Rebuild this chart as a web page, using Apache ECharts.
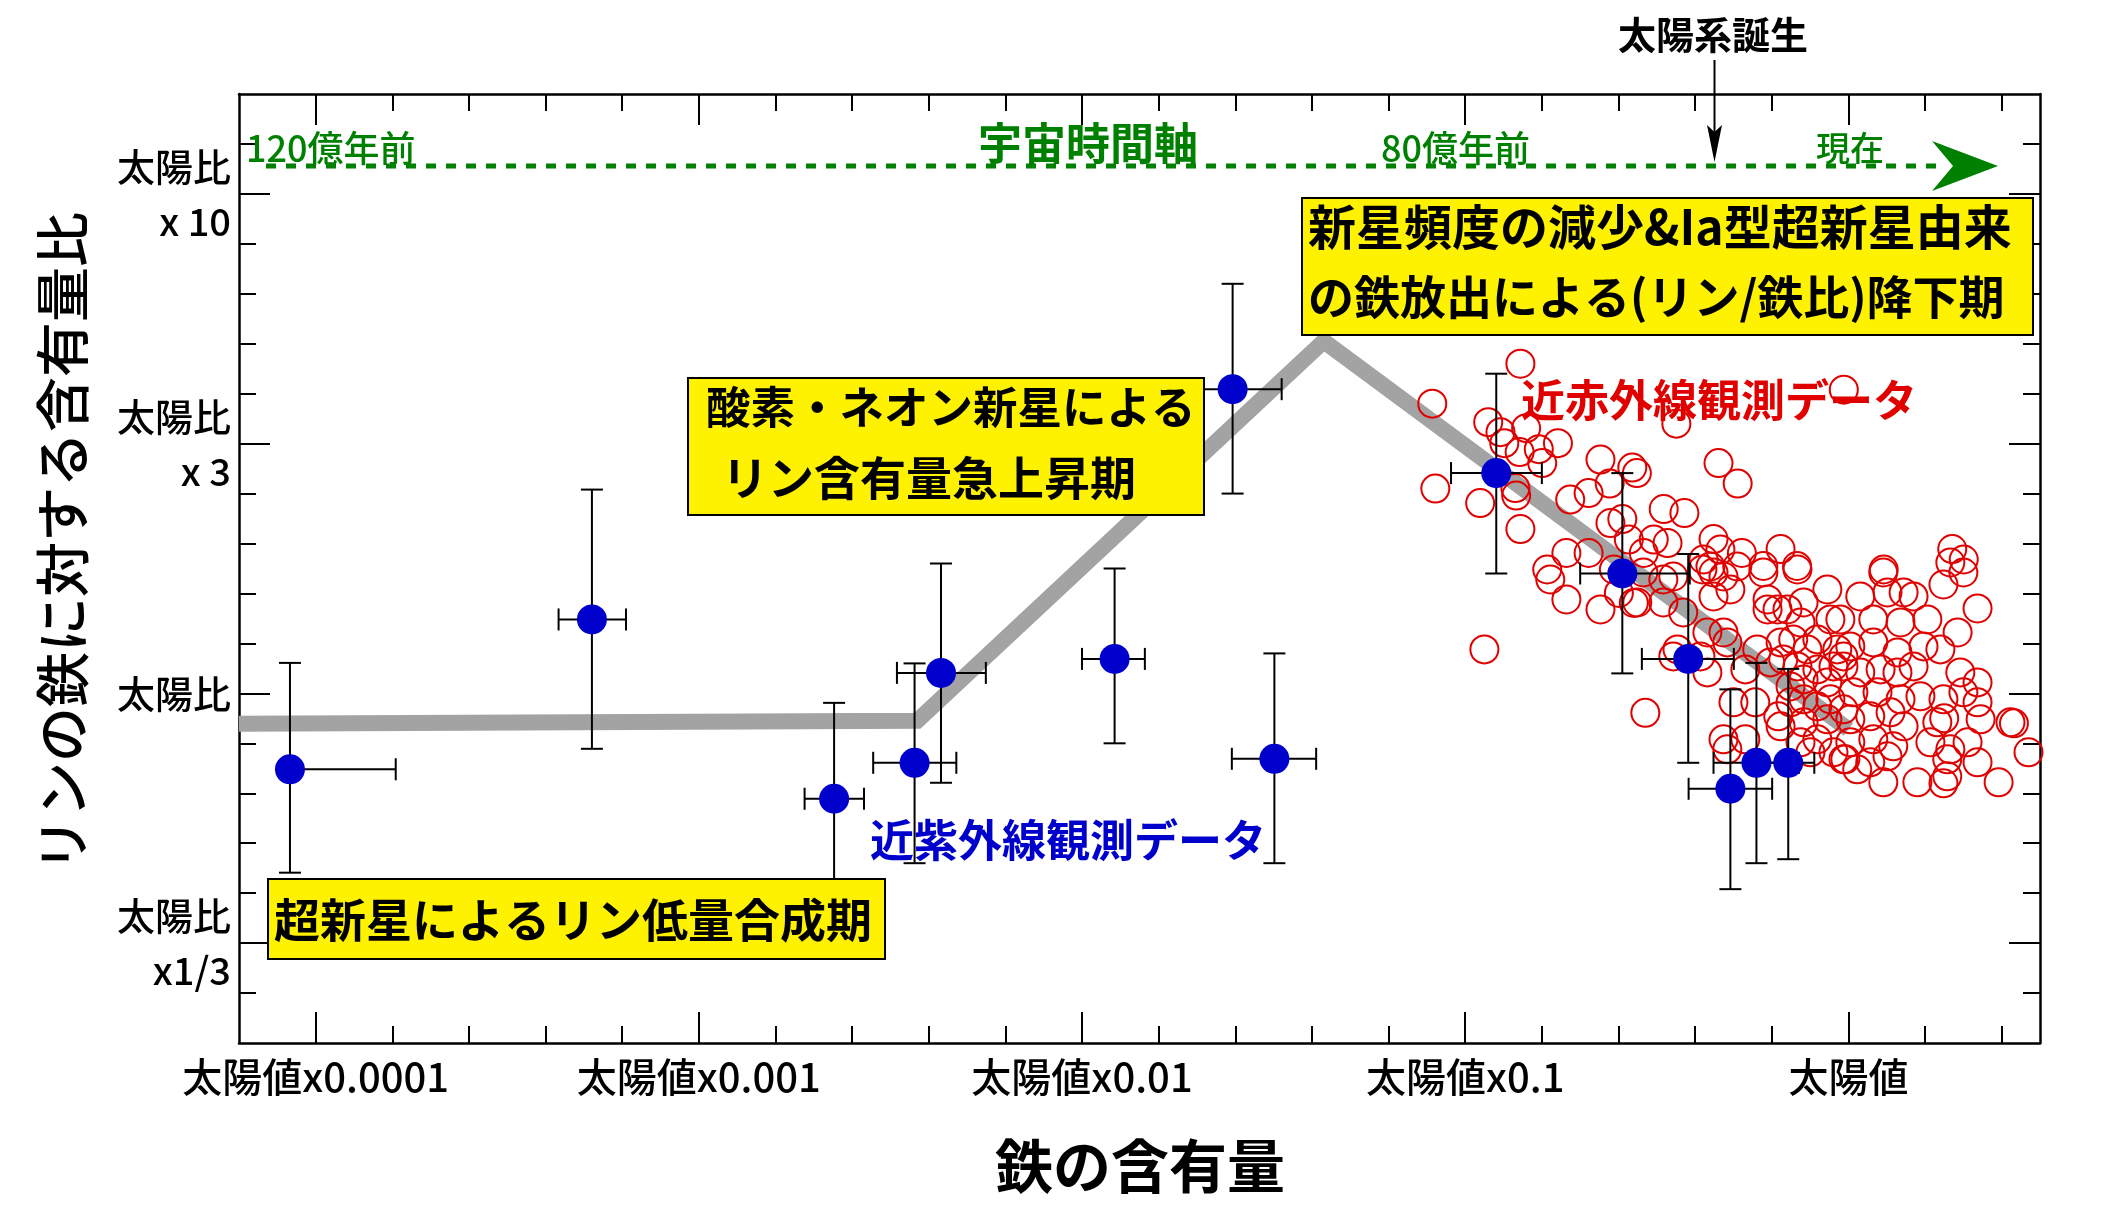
<!DOCTYPE html>
<html>
<head>
<meta charset="utf-8">
<script src="https://cdn.jsdelivr.net/npm/echarts@6/dist/echarts.min.js"></script>
<style>
  html, body { margin: 0; padding: 0; background: #fff; }
  #chart { width: 2114px; height: 1224px; }
</style>
</head>
<body>
<div id="chart"></div>
<script>
var FONT = "'Noto Sans CJK JP', sans-serif";

// 軸の目盛り
var feMajor = [-4, -3, -2, -1, 0];
var feMajorLabels = ['太陽値x0.0001', '太陽値x0.001', '太陽値x0.01', '太陽値x0.1', '太陽値'];
var feMinor = [-4.0, -3.8, -3.6, -3.4, -3.2, -3.0, -2.8, -2.6, -2.4, -2.2, -2.0, -1.8, -1.6,
               -1.4, -1.2, -1.0, -0.8, -0.6, -0.4, -0.2, 0, 0.2, 0.4];
var pMajor = [-0.5, 0, 0.5, 1.0];
var pMajorLabels = ['太陽比\nx1/3', '太陽比', '太陽比\nx 3', '太陽比\nx 10'];
var pMinor = [-0.6, -0.5, -0.4, -0.3, -0.2, -0.1, 0, 0.1, 0.2, 0.3, 0.4, 0.5, 0.6, 0.7, 0.8, 0.9, 1.0, 1.1];

// 近紫外線観測データ [Fe/H], [P/Fe] と誤差範囲
var uvFe   = [-4.067, -3.279, -2.647, -2.437, -2.368, -1.915, -1.498, -1.607, -0.919, -0.590, -0.418, -0.308, -0.240, -0.157];
var uvP    = [-0.152,  0.148, -0.211, -0.139,  0.041,  0.069, -0.131,  0.609,  0.441,  0.240,  0.069, -0.191, -0.139, -0.139];
var uvFeLo = [-4.067, -3.366, -2.724, -2.545, -2.483, -2.000, -1.609, -1.740, -1.037, -0.700, -0.539, -0.417, -0.352, -0.224];
var uvFeHi = [-3.791, -3.190, -2.569, -2.328, -2.251, -1.836, -1.389, -1.479, -0.800, -0.414, -0.299, -0.199, -0.129, -0.089];
var uvPLo  = [-0.359, -0.111, -0.400, -0.340, -0.179, -0.100, -0.340,  0.400,  0.240,  0.040, -0.139, -0.392, -0.340, -0.332];
var uvPHi  = [ 0.061,  0.408, -0.019,  0.060,  0.260,  0.250,  0.080,  0.820,  0.640,  0.441,  0.279,  0.008,  0.061,  0.049];

// 近赤外線観測データ [Fe/H, P/Fe]
var irPoints = [
  [-0.856,0.66],[-1.086,0.58],[-0.940,0.543],[-0.908,0.523],[-0.841,0.531],[-0.898,0.501],
  [-0.858,0.483],[-0.808,0.489],[-0.758,0.501],[-0.799,0.461],[-1.078,0.41],[-0.961,0.381],
  [-0.869,0.411],[-0.867,0.396],[-0.856,0.329],[-0.647,0.468],[-0.726,0.388],[-0.678,0.401],
  [-0.623,0.42],[-0.552,0.441],[-0.621,0.341],[-0.590,0.349],[-0.573,0.308],[-0.736,0.281],
  [-0.678,0.281],[-0.786,0.248],
  [-0.449,0.54],[-0.012,0.608],[-0.339,0.461],[-0.289,0.42],[-0.564,0.452],[-0.482,0.369],
  [-0.428,0.361],[-0.508,0.308],[-0.472,0.301],[-0.534,0.281],[-0.352,0.309],[-0.334,0.288],
  [-0.278,0.281],[-0.177,0.289],[-0.378,0.268],[-0.222,0.255],[-0.134,0.255],
  [0.271,0.289],[0.301,0.268],[0.092,0.248],
  [-0.778,0.228],[-0.736,0.188],[-0.647,0.168],[-0.599,0.201],[-0.560,0.181],[-0.612,0.248],
  [-0.950,0.088],[-0.530,-0.039],
  [-0.535,0.242],[-0.483,0.228],[-0.457,0.234],[-0.381,0.248],[-0.352,0.242],[-0.326,0.234],
  [-0.360,0.254],[-0.290,0.254],[-0.222,0.242],[-0.133,0.248],[-0.055,0.208],[-0.551,0.182],
  [-0.483,0.182],[-0.431,0.162],[-0.352,0.194],[-0.308,0.208],[-0.211,0.168],[-0.185,0.168],
  [-0.159,0.168],[-0.117,0.182],[-0.047,0.148],[-0.125,0.142],[-0.211,0.188],[-0.368,0.122],
  [-0.326,0.122],[-0.316,0.102],[-0.446,0.088],[-0.238,0.088],[-0.177,0.102],[-0.144,0.108],
  [-0.081,0.108],[-0.029,0.088],[-0.107,0.088],[-0.457,0.074],[-0.386,0.074],[-0.368,0.042],
  [-0.269,0.048],[-0.204,0.062],[-0.170,0.068],[-0.133,0.054],[-0.081,0.048],[-0.039,0.054],
  [-0.013,0.074],[-0.117,0.028],[-0.055,0.022],[-0.151,0.014],[-0.300,-0.018],[-0.243,-0.018],
  [-0.183,-0.046],[-0.151,-0.018],[-0.117,-0.012],[-0.081,-0.026],[-0.047,-0.012],[-0.013,-0.032],
  [-0.117,-0.058],[-0.177,-0.066],[-0.055,-0.052],[-0.326,-0.092],[-0.316,-0.112],[-0.269,-0.092],
  [-0.125,-0.098],[-0.081,-0.092],[-0.039,-0.118],[-0.013,-0.132],[-0.099,-0.118],
  [0.091,0.242],[0.300,0.242],[0.266,0.262],[0.248,0.218],[0.031,0.194],[0.102,0.202],
  [0.144,0.202],[0.170,0.194],[0.337,0.17],[-0.021,0.148],[0.065,0.148],[0.136,0.142],
  [0.206,0.148],[0.285,0.122],[0.005,0.094],[0.065,0.102],[0.128,0.082],[0.196,0.094],
  [0.240,0.088],[0.170,0.054],[0.292,0.042],[0.337,0.022],[-0.013,0.054],[0.031,0.042],
  [0.084,0.048],[0.128,0.042],[0.013,0.002],[0.076,0.002],[0.136,-0.012],[0.188,-0.006],
  [0.248,-0.012],[0.300,0.002],[0.337,-0.018],[0.345,-0.052],[0.423,-0.058],[0.432,-0.060],
  [0.005,-0.052],[0.057,-0.046],[0.110,-0.038],[0.144,-0.066],[0.232,-0.058],[0.250,-0.050],
  [0.214,-0.098],[0.266,-0.112],[0.311,-0.098],[0.005,-0.098],[0.065,-0.092],[0.117,-0.106],
  [-0.008,-0.132],[0.057,-0.138],[0.102,-0.126],[0.258,-0.132],[0.337,-0.138],[0.470,-0.118],
  [0.091,-0.178],[0.180,-0.178],[0.258,-0.166],[0.248,-0.180],[0.392,-0.178],[0.023,-0.152]
];

// 化学進化モデル(灰色の線)
var modelFe = [-4.2, -2.43, -1.369, 0.0];
var modelP  = [-0.061, -0.055, 0.705, -0.072];

var uvData = uvFe.map(function (x, i) { return [x, uvP[i]]; });
var errData = uvFe.map(function (x, i) {
  return [x, uvP[i], uvFeLo[i], uvFeHi[i], uvPLo[i], uvPHi[i]];
});
var modelData = modelFe.map(function (x, i) { return [x, modelP[i]]; });

function findLabel(vals, labels, v) {
  for (var i = 0; i < vals.length; i++) {
    if (Math.abs(vals[i] - v) < 1e-6) return labels[i];
  }
  return '';
}

function xAxisDef(pos, tickVals, len, withLabel, showLine) {
  return {
    type: 'value', position: pos, min: -4.2, max: 0.5,
    axisLine: { show: showLine, onZero: false, lineStyle: { color: '#000', width: 2.5 } },
    axisTick: { show: true, inside: true, length: len, customValues: tickVals,
                lineStyle: { color: '#000', width: 2 } },
    axisLabel: withLabel ? {
      show: true, customValues: feMajor, margin: 14,
      fontFamily: FONT, fontSize: 40, fontWeight: 500, color: '#000',
      formatter: function (v) { return findLabel(feMajor, feMajorLabels, v); }
    } : { show: false },
    splitLine: { show: false }
  };
}

function yAxisDef(pos, tickVals, len, withLabel, showLine) {
  return {
    type: 'value', position: pos, min: -0.7, max: 1.2,
    axisLine: { show: showLine, onZero: false, lineStyle: { color: '#000', width: 2.5 } },
    axisTick: { show: true, inside: true, length: len, customValues: tickVals,
                lineStyle: { color: '#000', width: 2 } },
    axisLabel: withLabel ? {
      show: true, customValues: pMajor, margin: 8, align: 'right',
      fontFamily: FONT, fontSize: 38, fontWeight: 500, color: '#000', lineHeight: 55,
      formatter: function (v) { return findLabel(pMajor, pMajorLabels, v); }
    } : { show: false },
    splitLine: { show: false }
  };
}

var myChart = echarts.init(document.getElementById('chart'));

var option = {
  backgroundColor: '#fff',
  animation: false,
  grid: { left: 239, right: 74, top: 94, bottom: 181 },
  xAxis: [
    xAxisDef('bottom', feMinor, 17, true, true),
    xAxisDef('bottom', feMajor, 31, false, false),
    xAxisDef('top', feMinor, 17, false, true),
    xAxisDef('top', feMajor, 31, false, false)
  ],
  yAxis: [
    yAxisDef('left', pMinor, 17, true, true),
    yAxisDef('left', pMajor, 31, false, false),
    yAxisDef('right', pMinor, 17, false, true),
    yAxisDef('right', pMajor, 31, false, false)
  ],
  series: [
    {
      type: 'line', data: modelData, symbol: 'none', silent: true, z: 1,
      lineStyle: { color: '#a3a3a3', width: 16, cap: 'butt', join: 'miter', opacity: 1 }
    },
    {
      type: 'scatter', data: irPoints, symbol: 'circle', symbolSize: 28, silent: true, z: 2,
      itemStyle: { color: 'rgba(0,0,0,0)', borderColor: '#e00000', borderWidth: 2, opacity: 1 }
    },
    {
      type: 'custom', data: errData, silent: true, z: 3,
      encode: { x: 0, y: 1 },
      renderItem: function (params, api) {
        var c = api.coord([api.value(0), api.value(1)]);
        var l = api.coord([api.value(2), api.value(1)]);
        var r = api.coord([api.value(3), api.value(1)]);
        var b = api.coord([api.value(0), api.value(4)]);
        var t = api.coord([api.value(0), api.value(5)]);
        var cap = 11;
        var st = { stroke: '#000', lineWidth: 2 };
        function seg(x1, y1, x2, y2) {
          return { type: 'line', shape: { x1: x1, y1: y1, x2: x2, y2: y2 }, style: st };
        }
        return {
          type: 'group',
          children: [
            seg(c[0], b[1], c[0], t[1]),
            seg(c[0] - cap, b[1], c[0] + cap, b[1]),
            seg(c[0] - cap, t[1], c[0] + cap, t[1]),
            seg(l[0], c[1], r[0], c[1]),
            seg(l[0], c[1] - cap, l[0], c[1] + cap),
            seg(r[0], c[1] - cap, r[0], c[1] + cap)
          ]
        };
      }
    },
    {
      type: 'scatter', data: uvData, symbol: 'circle', symbolSize: 30, silent: true, z: 4,
      itemStyle: { color: '#0000cc', opacity: 1 }
    }
  ],
  graphic: [
    // 宇宙時間軸
    { type: 'line', shape: { x1: 266, y1: 166, x2: 1940, y2: 166 }, z: 10,
      style: { stroke: '#008000', lineWidth: 5, lineDash: [10, 10] } },
    { type: 'polygon', shape: { points: [[1932, 141], [1998, 166], [1932, 191], [1953, 166]] }, z: 10,
      style: { fill: '#008000' } },
    { type: 'text', x: 246, y: 148, z: 10,
      style: { text: '120億年前', fill: '#008000', font: '500 36px ' + FONT, textVerticalAlign: 'middle' } },
    { type: 'text', x: 978, y: 143, z: 10,
      style: { text: '宇宙時間軸', fill: '#008000', font: 'bold 44px ' + FONT, textVerticalAlign: 'middle' } },
    { type: 'text', x: 1381, y: 148, z: 10,
      style: { text: '80億年前', fill: '#008000', font: '500 36px ' + FONT, textVerticalAlign: 'middle' } },
    { type: 'text', x: 1816, y: 148, z: 10,
      style: { text: '現在', fill: '#008000', font: '500 34px ' + FONT, textVerticalAlign: 'middle' } },
    // 太陽系誕生
    { type: 'text', x: 1713, y: 35, z: 10,
      style: { text: '太陽系誕生', fill: '#000', font: 'bold 38px ' + FONT, textAlign: 'center', textVerticalAlign: 'middle' } },
    { type: 'line', shape: { x1: 1714.5, y1: 60, x2: 1714.5, y2: 140 }, z: 10,
      style: { stroke: '#000', lineWidth: 2 } },
    { type: 'polygon', shape: { points: [[1707, 125], [1714.5, 162], [1722, 125], [1714.5, 132]] }, z: 10,
      style: { fill: '#000' } },
    // 注釈ボックス
    { type: 'rect', shape: { x: 1302, y: 198, width: 731, height: 137 }, z: 10,
      style: { fill: '#fff200', stroke: '#000', lineWidth: 2 } },
    { type: 'text', x: 1308, y: 227, z: 11,
      style: { text: '新星頻度の減少&Ia型超新星由来', fill: '#000', font: 'bold 48px ' + FONT, textVerticalAlign: 'middle' } },
    { type: 'text', x: 1308, y: 297, z: 11,
      style: { text: 'の鉄放出による(リン/鉄比)降下期', fill: '#000', font: 'bold 46px ' + FONT, textVerticalAlign: 'middle' } },
    { type: 'rect', shape: { x: 688, y: 378, width: 516, height: 137 }, z: 10,
      style: { fill: '#fff200', stroke: '#000', lineWidth: 2 } },
    { type: 'text', x: 706, y: 407, z: 11,
      style: { text: '酸素・ネオン新星による', fill: '#000', font: 'bold 44.5px ' + FONT, textVerticalAlign: 'middle' } },
    { type: 'text', x: 722, y: 478, z: 11,
      style: { text: 'リン含有量急上昇期', fill: '#000', font: 'bold 46px ' + FONT, textVerticalAlign: 'middle' } },
    { type: 'rect', shape: { x: 268, y: 879, width: 617, height: 80 }, z: 10,
      style: { fill: '#fff200', stroke: '#000', lineWidth: 2 } },
    { type: 'text', x: 274, y: 920, z: 11,
      style: { text: '超新星によるリン低量合成期', fill: '#000', font: 'bold 46px ' + FONT, textVerticalAlign: 'middle' } },
    // 系列ラベル
    { type: 'text', x: 1521, y: 400, z: 11,
      style: { text: '近赤外線観測データ', fill: '#e00000', font: 'bold 44px ' + FONT, textVerticalAlign: 'middle' } },
    { type: 'text', x: 870, y: 840, z: 11,
      style: { text: '近紫外線観測データ', fill: '#0000cc', font: 'bold 44px ' + FONT, textVerticalAlign: 'middle' } },
    // 軸タイトル
    { type: 'text', x: 1140, y: 1166, z: 11,
      style: { text: '鉄の含有量', fill: '#000', font: 'bold 58px ' + FONT, textAlign: 'center', textVerticalAlign: 'middle' } },
    { type: 'text', x: 62, y: 542, rotation: Math.PI / 2, z: 11,
      style: { text: 'リンの鉄に対する含有量比', fill: '#000', font: '500 55px ' + FONT, textAlign: 'center', textVerticalAlign: 'middle' } }
  ]
};

myChart.setOption(option);
</script>
</body>
</html>
